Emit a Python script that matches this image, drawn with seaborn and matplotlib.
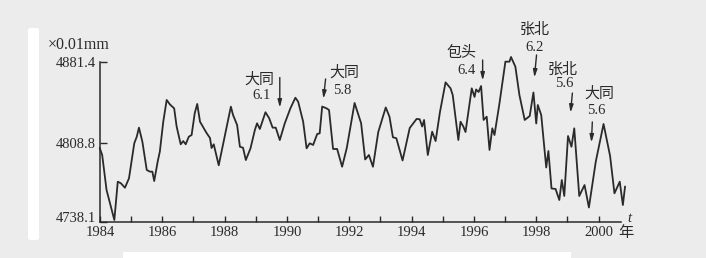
import numpy as np
import pandas as pd
import matplotlib
matplotlib.use("Agg")
import matplotlib.pyplot as plt
import matplotlib.transforms as mtransforms
from matplotlib.patches import FancyBboxPatch, Rectangle
import seaborn as sns

# ---- data ----
years = [1983.99, 1984.07, 1984.21, 1984.46, 1984.57, 1984.67, 1984.80, 1984.93,
         1985.10, 1985.18, 1985.25, 1985.36, 1985.50, 1985.60, 1985.68, 1985.74,
         1985.85, 1985.92, 1986.03, 1986.14, 1986.24, 1986.38, 1986.46, 1986.59,
         1986.67, 1986.75, 1986.85, 1986.94, 1987.04, 1987.12, 1987.21, 1987.42,
         1987.53, 1987.58, 1987.65, 1987.81, 1988.01, 1988.20, 1988.27, 1988.40,
         1988.49, 1988.59, 1988.68, 1988.83, 1988.97, 1989.04, 1989.13, 1989.31,
         1989.43, 1989.54, 1989.64, 1989.77, 1989.93, 1990.11, 1990.27, 1990.36,
         1990.52, 1990.63, 1990.73, 1990.84, 1990.97, 1991.05, 1991.13, 1991.27,
         1991.35, 1991.48, 1991.61, 1991.77, 1991.92, 1992.17, 1992.38, 1992.51,
         1992.63, 1992.76, 1992.93, 1993.17, 1993.29, 1993.40, 1993.51, 1993.71,
         1993.94, 1994.16, 1994.26, 1994.34, 1994.40, 1994.52, 1994.66, 1994.77,
         1994.91, 1995.09, 1995.25, 1995.32, 1995.50, 1995.57, 1995.66, 1995.73,
         1995.84, 1995.93, 1996.02, 1996.07, 1996.15, 1996.23, 1996.31, 1996.41,
         1996.50, 1996.59, 1996.66, 1996.82, 1997.01, 1997.14, 1997.19, 1997.33,
         1997.46, 1997.63, 1997.79, 1997.91, 1998.00, 1998.05, 1998.16, 1998.32,
         1998.39, 1998.49, 1998.62, 1998.74, 1998.82, 1998.90, 1999.02, 1999.13,
         1999.22, 1999.38, 1999.55, 1999.69, 1999.91, 2000.16, 2000.37, 2000.51,
         2000.68, 2000.78, 2000.85]
values = [4804.4, 4798.1, 4766.8, 4739.9, 4774.2, 4772.8, 4768.8, 4777.2,
          4808.6, 4814.5, 4822.6, 4810.0, 4784.7, 4783.2, 4783.2, 4774.8,
          4792.1, 4801.1, 4827.9, 4847.4, 4843.5, 4839.9, 4823.5, 4807.7,
          4810.6, 4807.7, 4814.5, 4816.0, 4835.5, 4843.8, 4827.9, 4817.8,
          4813.3, 4804.4, 4807.7, 4788.9, 4816.0, 4841.4, 4833.9, 4825.0,
          4805.5, 4804.6, 4793.6, 4804.1, 4820.5, 4826.5, 4821.4, 4836.4,
          4831.0, 4822.6, 4822.6, 4811.5, 4826.5, 4839.9, 4849.4, 4845.8,
          4827.9, 4804.1, 4808.6, 4807.1, 4816.9, 4817.5, 4841.5, 4839.9,
          4838.4, 4803.5, 4803.5, 4787.6, 4804.4, 4844.7, 4826.5, 4794.1,
          4798.1, 4787.6, 4818.7, 4840.7, 4832.4, 4814.0, 4813.1, 4793.2,
          4822.3, 4830.4, 4830.1, 4823.6, 4829.5, 4798.1, 4819.0, 4810.6,
          4836.6, 4863.2, 4857.8, 4851.8, 4811.5, 4827.9, 4823.6, 4818.7,
          4839.9, 4857.8, 4850.1, 4856.8, 4854.5, 4859.9, 4829.5, 4832.4,
          4802.6, 4822.0, 4816.0, 4844.4, 4881.7, 4881.7, 4885.9, 4877.2,
          4851.8, 4829.5, 4833.0, 4854.1, 4826.3, 4842.9, 4833.9, 4786.9,
          4801.7, 4768.1, 4767.7, 4757.8, 4775.7, 4761.4, 4815.1, 4805.5,
          4822.0, 4761.4, 4771.2, 4751.1, 4792.1, 4825.9, 4797.2, 4763.8,
          4774.2, 4753.3, 4769.9]

ytick_values = [4738.1, 4808.8, 4881.4]
xtick_labels = [1984, 1986, 1988, 1990, 1992, 1994, 1996, 1998, 2000]

quake_sites = ["大同", "大同", "包头", "张北", "张北", "大同"]
quake_mags = ["6.1", "5.8", "6.4", "6.2", "5.6", "5.6"]

# ---- layout for annotations: (name_xy, mag_xy, arrow_start, arrow_end) in data coords ----
ann_layout = [
    ((1989.13, 4865.3), (1989.19, 4851.3), (1989.77, 4867.5), (1989.77, 4840.5)),
    ((1991.85, 4872.4), (1991.79, 4856.3), (1991.24, 4866.2), (1991.17, 4848.5)),
    ((1995.60, 4889.5), (1995.76, 4874.2), (1996.28, 4883.2), (1996.28, 4864.8)),
    ((1997.94, 4910.1), (1997.94, 4894.8), (1998.01, 4887.7), (1997.94, 4867.5)),
    ((1998.84, 4874.2), (1998.90, 4862.5), (1999.16, 4853.6), (1999.10, 4836.0)),
    ((2000.03, 4853.6), (1999.93, 4838.4), (1999.80, 4827.7), (1999.77, 4809.3)),
]

df = pd.DataFrame({"year": years, "value": values})

sns.set_style("ticks")
plt.rcParams["font.family"] = ["Liberation Serif", "Noto Sans CJK SC", "DejaVu Sans"]

W, H = 706, 258
bg = "#ececec"
ink = "#2a2a2a"
fig = plt.figure(figsize=(W / 100, H / 100), dpi=100, facecolor=bg)
ax = fig.add_axes([100 / W, 36 / H, 521 / W, 160 / H])
ax.set_facecolor(bg)

sns.lineplot(data=df, x="year", y="value", ax=ax, color=ink, lw=1.3,
             estimator=None, sort=False, clip_on=False)

ax.set_xlim(1984, 2000.72)
ax.set_ylim(4738.1, 4881.4)
ax.set_xlabel("")
ax.set_ylabel("")
for s in ["top", "right"]:
    ax.spines[s].set_visible(False)
for s in ["left", "bottom"]:
    ax.spines[s].set_color(ink)
    ax.spines[s].set_linewidth(1.1)

ax.set_xticks(xtick_labels)
ax.set_xticklabels([str(v) for v in xtick_labels], fontsize=10.5, color=ink,
                   family="Liberation Serif")
ax.set_xticks(list(range(1985, 2001, 2)), minor=True)
ax.tick_params(axis="x", which="both", direction="in", length=4, width=1.0,
               color=ink, pad=3)
ax.set_yticks(ytick_values)
ax.set_yticklabels([f"{v:.1f}" for v in ytick_values], fontsize=10.5, color=ink,
                   family="Liberation Serif")
ax.tick_params(axis="y", direction="in", length=5, width=1.0, color=ink, pad=3)

# lift the lowest y label a little, as in the reference
low_lab = ax.get_yticklabels()[0]
low_lab.set_transform(low_lab.get_transform() +
                      mtransforms.ScaledTranslation(0, 5 / 100, fig.dpi_scale_trans))

# annotations
for site, mag, (nxy, mxy, a0, a1) in zip(quake_sites, quake_mags, ann_layout):
    ax.text(nxy[0], nxy[1], site, ha="center", va="center", fontsize=10.8,
            color=ink, family=["Noto Sans CJK SC"], clip_on=False)
    ax.text(mxy[0], mxy[1], mag, ha="center", va="center", fontsize=10.5,
            color=ink, family=["Liberation Serif"], clip_on=False)
    ax.annotate("", xy=a1, xytext=a0, annotation_clip=False,
                arrowprops=dict(arrowstyle="-|>,head_length=0.45,head_width=0.12",
                                color=ink, lw=1.0, shrinkA=0, shrinkB=0))

# units, axis name, year unit
fig.text(79 / W, 1 - 45 / H, "×0.01mm", ha="center", va="center", fontsize=11.5,
         color=ink, family=["Liberation Serif"])
fig.text(629 / W, 1 - 218 / H, "t", ha="center", va="center", fontsize=10.5,
         color=ink, style="italic", family=["Liberation Serif"])
fig.text(626 / W, 1 - 233 / H, "年", ha="center", va="center", fontsize=11,
         color=ink, family=["Noto Sans CJK SC"])

# scan artefacts: white bands
fig.patches.append(FancyBboxPatch((28 / W, 1 - 240 / H), 11 / W, 212 / H,
                                  boxstyle="round,pad=0.0,rounding_size=0.006",
                                  transform=fig.transFigure, facecolor="white",
                                  edgecolor="none", figure=fig))
fig.patches.append(Rectangle((123 / W, 0), 448 / W, 6 / H, transform=fig.transFigure,
                             facecolor="white", edgecolor="none", figure=fig))

fig.savefig("out.png", dpi=100, facecolor=bg)
